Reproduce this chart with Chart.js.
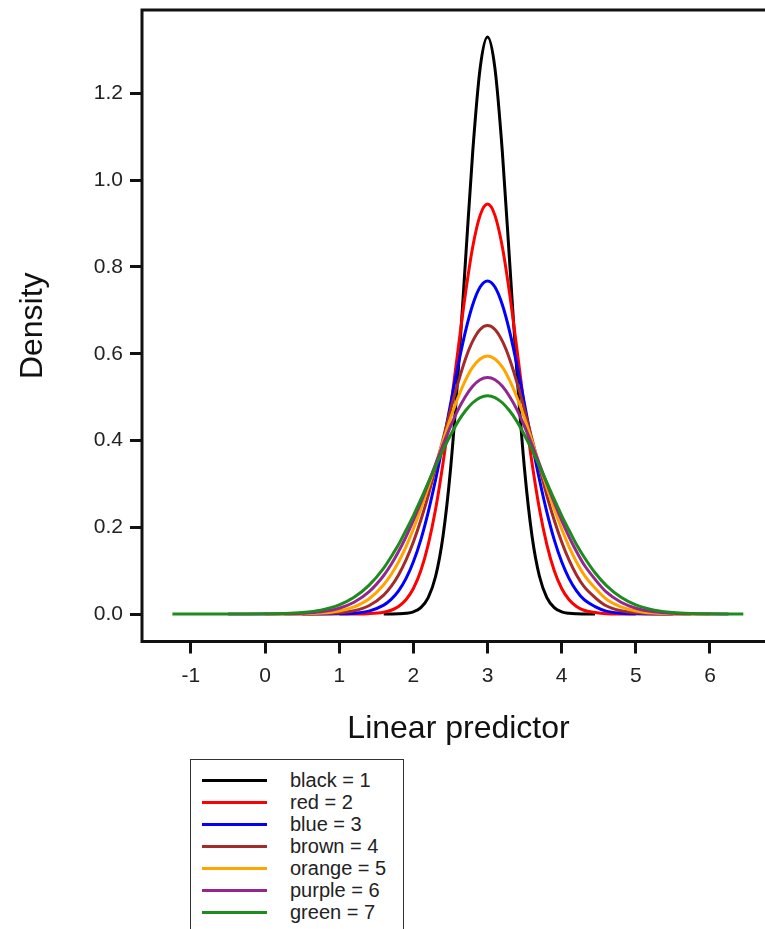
<!DOCTYPE html>
<html>
<head>
<meta charset="utf-8">
<title>Density vs linear predictor</title>
<script src="https://cdn.jsdelivr.net/npm/chart.js@4.4.1/dist/chart.umd.min.js"></script>
<style>
    html, body { margin: 0; padding: 0; background: #fff; overflow: hidden; }
    #wrap { position: relative; width: 765px; height: 929px; overflow: hidden; }
    #grafico { position: absolute; left: 0; top: 0; }
    #legenda {
        position: absolute; left: 190px; top: 759px; width: 214px; height: 200px;
        box-sizing: border-box; border: 1.5px solid #333; background: #fff;
        padding-top: 9px;
        font-family: "Liberation Sans", Arial, sans-serif; font-size: 20px; color: #222;
    }
    .item { display: flex; align-items: center; height: 22px; white-space: nowrap; }
    .amostra { width: 65px; height: 3px; margin-left: 11px; margin-right: 23px; }
</style>
</head>
<body>
<div id="wrap">
    <canvas id="grafico" width="775" height="929"></canvas>
    <div id="legenda"></div>
</div>
<script>
// eixo x comum (preditor linear)
const xs = [-1.25, -1, -0.75, -0.5, -0.25, 0, 0.25, 0.5, 0.75, 1, 1.2, 1.4,
    1.6, 1.7, 1.8, 1.9, 2, 2.1, 2.2, 2.3, 2.4, 2.5, 2.6, 2.7, 2.8, 2.9,
    3, 3.1, 3.2, 3.3, 3.4, 3.5, 3.6, 3.7, 3.8, 3.9, 4, 4.1, 4.2, 4.3, 4.45,
    4.6, 4.8, 5, 5.25, 5.5, 5.75, 6, 6.25, 6.45];

// densidades (null = curva nao desenhada ali)
const preto = [null, null, null, null, null, null, null, null, null, null, null, null,
    0, 0.0001, 0.0004, 0.0016, 0.0051, 0.0148, 0.038, 0.087, 0.180, 0.332, 0.547, 0.807, 1.065, 1.258,
    1.33, 1.258, 1.065, 0.807, 0.547, 0.332, 0.180, 0.087, 0.038, 0.0148, 0.0051, 0.0016, 0.0004, 0.0001, 0,
    null, null, null, null, null, null, null, null, null];

const vermelho = [null, null, null, null, null, null, null, null, null, 0, 0.0001, 0.0008,
    0.0041, 0.0086, 0.0173, 0.0328, 0.0588, 0.0996, 0.160, 0.242, 0.348, 0.472, 0.606, 0.736, 0.846, 0.919,
    0.945, 0.919, 0.846, 0.736, 0.606, 0.472, 0.348, 0.242, 0.160, 0.0996, 0.0588, 0.0328, 0.0173, 0.0086, 0.0035,
    0.0008, 0.0001, 0, null, null, null, null, null, null];

const azul = [null, null, null, null, null, null, null, 0, 0.0001, 0.0005, 0.0019, 0.0067,
    0.0204, 0.0336, 0.0534, 0.0817, 0.1205, 0.171, 0.235, 0.310, 0.394, 0.483, 0.571, 0.650, 0.713, 0.754,
    0.768, 0.754, 0.713, 0.650, 0.571, 0.483, 0.394, 0.310, 0.235, 0.171, 0.1205, 0.0817, 0.0534, 0.0336, 0.017,
    0.0067, 0.0019, 0.0005, 0.0001, 0, null, null, null, null];

const marrom = [null, null, null, null, null, null, 0, 0.0001, 0.0006, 0.0026, 0.0074, 0.0190,
    0.0437, 0.0636, 0.090, 0.124, 0.166, 0.216, 0.273, 0.337, 0.403, 0.470, 0.532, 0.587, 0.629, 0.656,
    0.665, 0.656, 0.629, 0.587, 0.532, 0.470, 0.403, 0.337, 0.273, 0.216, 0.166, 0.124, 0.090, 0.0636, 0.038,
    0.0190, 0.0074, 0.0026, 0.0006, 0.0001, 0, null, null, null];

const laranja = [null, null, null, null, null, 0, 0.0001, 0.0006, 0.0021, 0.0070, 0.0163, 0.0346,
    0.0674, 0.091, 0.120, 0.155, 0.196, 0.242, 0.292, 0.345, 0.399, 0.451, 0.498, 0.538, 0.569, 0.588,
    0.595, 0.588, 0.569, 0.538, 0.498, 0.451, 0.399, 0.345, 0.292, 0.242, 0.196, 0.155, 0.120, 0.091, 0.060,
    0.0346, 0.0163, 0.0070, 0.0021, 0.0006, 0.0001, 0, null, null];

const roxo = [null, null, null, 0, 0, 0.0001, 0.0005, 0.0017, 0.0050, 0.0134, 0.0271, 0.0509,
    0.0888, 0.114, 0.144, 0.178, 0.216, 0.257, 0.301, 0.346, 0.390, 0.432, 0.470, 0.501, 0.525, 0.540,
    0.545, 0.540, 0.525, 0.501, 0.470, 0.432, 0.390, 0.346, 0.301, 0.257, 0.216, 0.178, 0.144, 0.114, 0.080,
    0.0509, 0.0271, 0.0134, 0.0050, 0.0017, 0.0005, 0.0001, 0, null];

const verde = [0, 0, 0, 0, 0.0001, 0.0004, 0.0012, 0.0035, 0.0090, 0.0210, 0.0384, 0.066,
    0.106, 0.132, 0.160, 0.193, 0.227, 0.264, 0.303, 0.341, 0.378, 0.412, 0.443, 0.468, 0.487, 0.499,
    0.503, 0.499, 0.487, 0.468, 0.443, 0.412, 0.378, 0.341, 0.303, 0.264, 0.227, 0.193, 0.160, 0.132, 0.095,
    0.066, 0.0384, 0.0210, 0.0090, 0.0035, 0.0012, 0.0004, 0.0001, 0];

const rotulos = ['black = 1', 'red = 2', 'blue = 3', 'brown = 4', 'orange = 5', 'purple = 6', 'green = 7'];
const cores = ['#000000', '#ff0000', '#0000ff', '#a52a2a', '#ffa500', '#92278f', '#1e8b1e'];

const xTicks = [-1, 0, 1, 2, 3, 4, 5, 6];
const yTicks = [0, 0.2, 0.4, 0.6, 0.8, 1.0, 1.2];

const fonte = '"Liberation Sans", Arial, sans-serif';
const series = [preto, vermelho, azul, marrom, laranja, roxo, verde];

const datasets = series.map((vals, i) => ({
    label: rotulos[i],
    data: xs.map((x, j) => ({ x: x, y: vals[j] })).filter(p => p.y !== null),
    borderColor: cores[i],
    backgroundColor: cores[i],
    borderWidth: 3,
    pointRadius: 0,
    fill: false,
    cubicInterpolationMode: 'monotone',
    order: series.length - i
}));

// moldura do grafico (esquerda, topo, base)
const moldura = {
    id: 'moldura',
    afterDraw(chart) {
        const { ctx, chartArea: a } = chart;
        ctx.save();
        ctx.strokeStyle = '#111';
        ctx.lineWidth = 3;
        ctx.beginPath();
        ctx.moveTo(a.right + 10, a.top);
        ctx.lineTo(a.left, a.top);
        ctx.lineTo(a.left, a.bottom);
        ctx.lineTo(a.right + 10, a.bottom);
        ctx.stroke();
        ctx.restore();
    }
};

new Chart(document.getElementById('grafico').getContext('2d'), {
    type: 'line',
    data: { datasets: datasets },
    options: {
        responsive: false,
        animation: false,
        layout: { padding: { left: 0, top: 10, right: 0, bottom: 177.5 } },
        plugins: { legend: { display: false }, tooltip: { enabled: false } },
        scales: {
            x: {
                type: 'linear',
                min: -1.66,
                max: 6.877,
                afterBuildTicks: s => { s.ticks = xTicks.map(v => ({ value: v })); },
                afterFit: s => { s.height = 110; s.paddingLeft = 0; s.paddingRight = 0; },
                border: { display: false },
                grid: { drawOnChartArea: false, drawTicks: true, tickLength: 12, lineWidth: 3, color: '#111' },
                ticks: { padding: 10, color: '#222', font: { family: fonte, size: 21 } },
                title: {
                    display: true, text: 'Linear predictor', color: '#111',
                    font: { family: fonte, size: 32 }, padding: { top: 0, bottom: 3 }
                }
            },
            y: {
                type: 'linear',
                min: -0.0634,
                max: 1.3925,
                afterBuildTicks: s => { s.ticks = yTicks.map(v => ({ value: v })); },
                afterFit: s => { s.width = 142; s.paddingTop = 0; s.paddingBottom = 0; },
                border: { display: false },
                grid: { drawOnChartArea: false, drawTicks: true, tickLength: 12, lineWidth: 3, color: '#111' },
                ticks: {
                    padding: 7, color: '#222', font: { family: fonte, size: 21 },
                    callback: v => Number(v).toFixed(1)
                },
                title: {
                    display: true, text: 'Density', color: '#111',
                    font: { family: fonte, size: 32 }, padding: { top: 14, bottom: 0 }
                }
            }
        }
    },
    plugins: [moldura]
});

// legenda em HTML
const legenda = document.getElementById('legenda');
rotulos.forEach((texto, i) => {
    const item = document.createElement('div');
    item.className = 'item';
    const amostra = document.createElement('span');
    amostra.className = 'amostra';
    amostra.style.background = cores[i];
    const rotulo = document.createElement('span');
    rotulo.textContent = texto;
    item.appendChild(amostra);
    item.appendChild(rotulo);
    legenda.appendChild(item);
});
</script>
</body>
</html>
